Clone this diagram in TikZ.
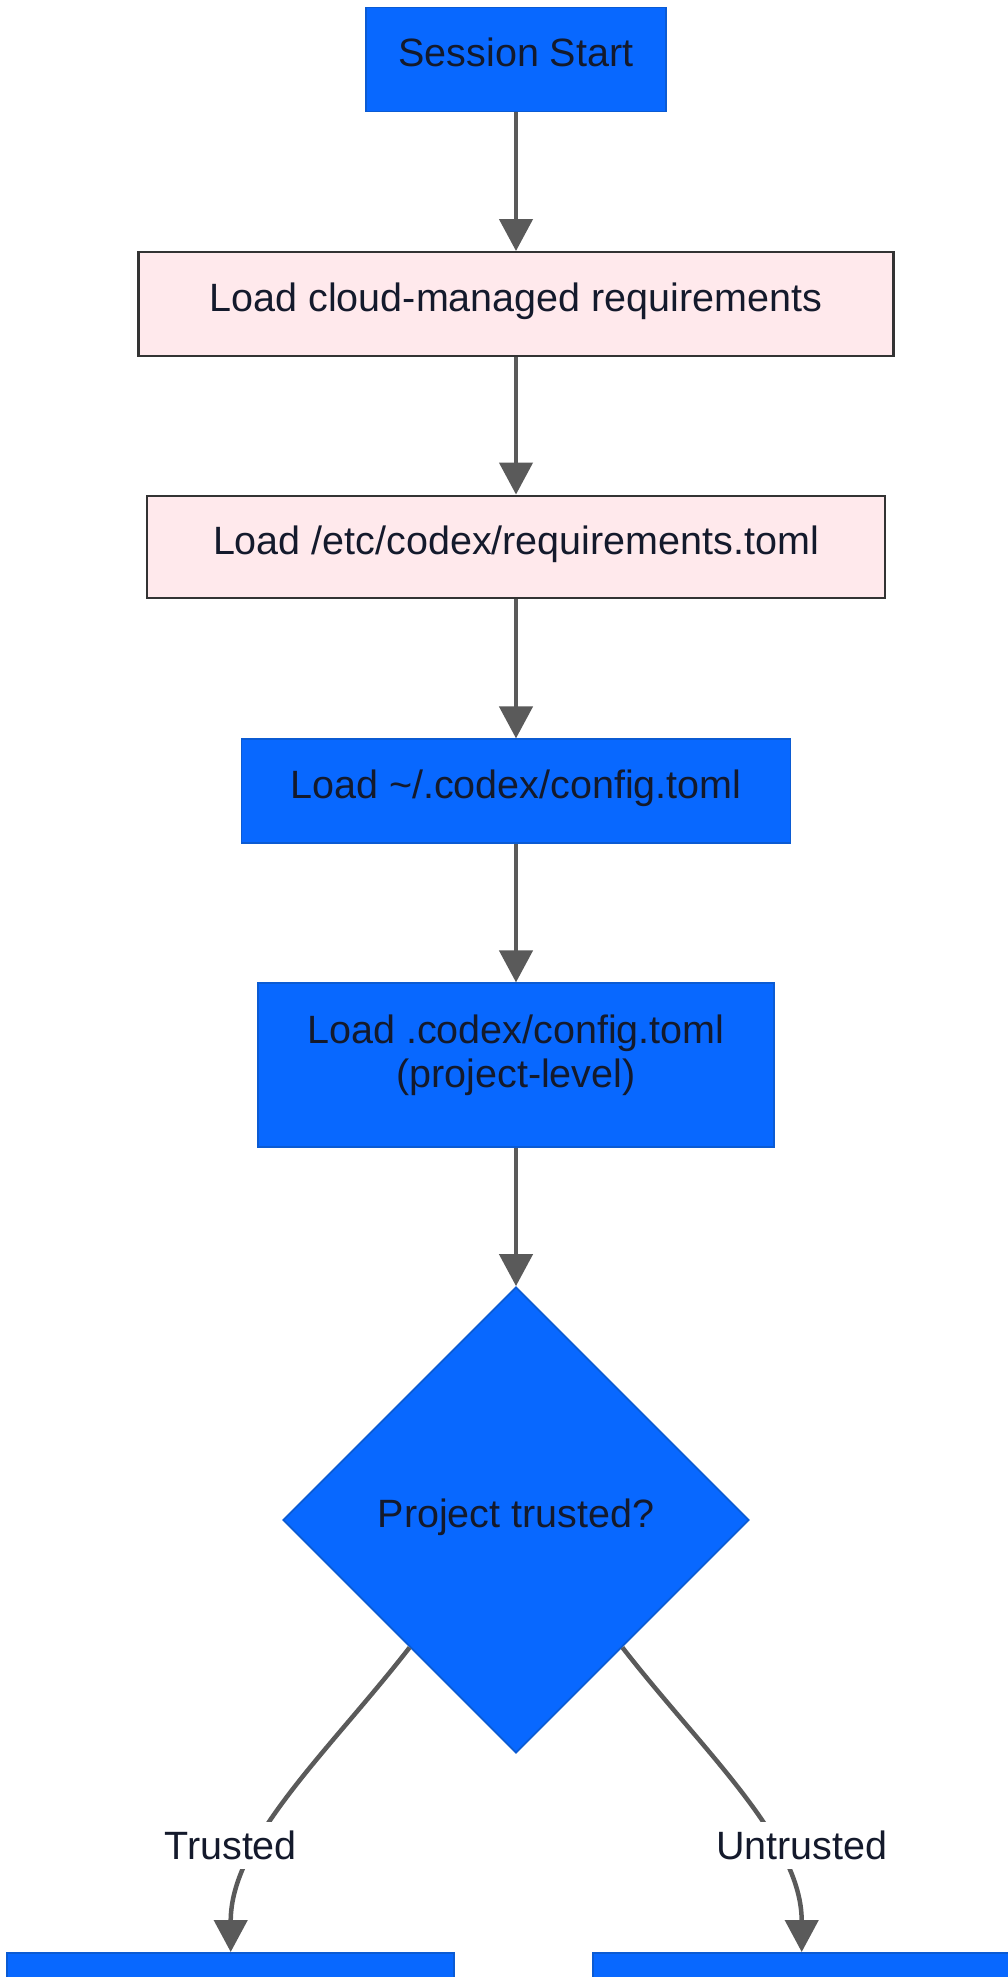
\documentclass[tikz,border=0pt]{standalone}
\usepackage{fontspec}
\setmainfont{Liberation Sans}
\usetikzlibrary{arrows.meta,shapes.geometric,calc}
\definecolor{bluefill}{HTML}{0868FF}
\definecolor{blueline}{HTML}{0B5BD3}
\definecolor{pinkfill}{HTML}{FFE9EC}
\definecolor{pinkline}{HTML}{333333}
\definecolor{txt}{HTML}{141A2C}
\definecolor{edgecol}{HTML}{5A5A5A}
\begin{document}
\begin{tikzpicture}[x=1pt,y=-1pt,
  every node/.style={font=\fontsize{39.5}{44}\selectfont, text=txt},
  boxbase/.style={rectangle, inner sep=0pt, text height=30pt, text depth=15pt},
  bluebox/.style={boxbase, draw=blueline, fill=bluefill, line width=1.8pt},
  pinkbox/.style={boxbase, draw=pinkline, fill=pinkfill, line width=2.4pt},
  decision/.style={diamond, aspect=1, draw=blueline, fill=bluefill, line width=1.8pt, inner sep=0pt, minimum width=466pt, minimum height=466pt, text height=30pt, text depth=15pt},
  conn/.style={draw=edgecol, line width=4.5pt, -{Triangle[length=32pt,width=33pt]}},
  elabel/.style={fill=white, inner xsep=4pt, inner ysep=9pt}
]
\useasboundingbox (0,0) rectangle (1008,1977);
\fill[white] (0,0) rectangle (1008,1977);
\clip (0,0) rectangle (1008,1977);

\node[bluebox, minimum width=300pt, minimum height=104pt] (S) at (516,59.5) {Session Start};
\node[pinkbox, minimum width=755pt, minimum height=103.5pt] (C) at (516,304) {Load cloud-managed requirements};
\node[pinkbox, minimum width=738.5pt, minimum height=102.5pt] (E) at (516,547) {Load /etc/codex/requirements.toml};
\node[bluebox, minimum width=549pt, minimum height=104pt] (U) at (516,791.3) {Load \textasciitilde/.codex/config.toml};
\node[bluebox, minimum width=516.6pt, minimum height=163.4pt, align=center, text height=74pt, text depth=30pt] (P) at (516,1065) {Load .codex/config.toml\\(project-level)};
\node[decision] (D) at (516,1520) {Project trusted?};
\node[bluebox, minimum width=446.7pt, minimum height=104pt, anchor=north] (L) at (230.7,1952) {};
\node[bluebox, minimum width=416.7pt, minimum height=104pt, anchor=north] (R) at (801.7,1952) {};

\draw[conn] (S.south) -- (C.north);
\draw[conn] (C.south) -- (E.north);
\draw[conn] (E.south) -- (U.north);
\draw[conn] (U.south) -- (P.north);
\draw[conn] (P.south) -- (D.north);
\draw[conn] ($(D.west)!0.545!(D.south)$) .. controls +(-80,103) and +(0,-112) .. (L.north);
\draw[conn] ($(D.east)!0.545!(D.south)$) .. controls +(80,103) and +(0,-112) .. (R.north);

\node[elabel] (tl) at (230.7,1845) {Trusted};
\node[elabel] (ul) at (801.7,1845) {Untrusted};
\end{tikzpicture}
\end{document}
